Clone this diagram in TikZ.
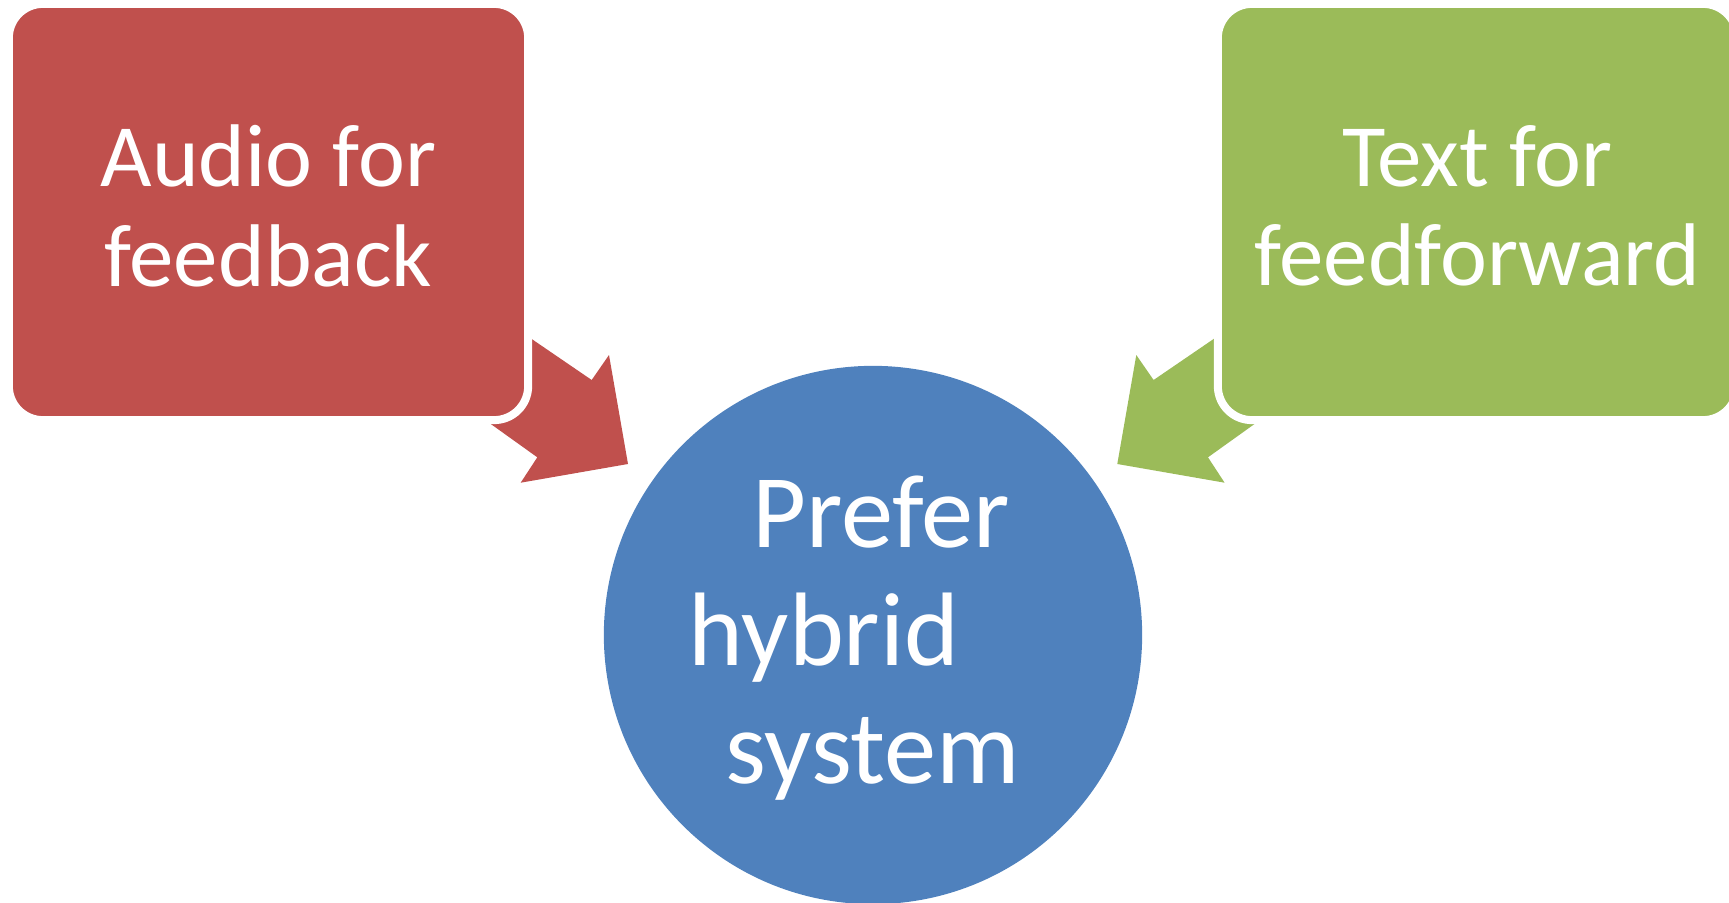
\documentclass[tikz,border=0pt]{standalone}
\usepackage{fontspec}
\setmainfont{Carlito}
\definecolor{boxred}{HTML}{C0504D}
\definecolor{boxgreen}{HTML}{9BBB59}
\definecolor{boxblue}{HTML}{4F81BD}
\begin{document}
\begin{tikzpicture}[x=0.01cm,y=-0.01cm,
  box/.style={rounded corners=0.34cm, draw=white, line width=0.08cm, minimum width=5.19cm, minimum height=4.16cm, inner sep=0pt},
  boxtext/.style={text=white, align=center, font=\fontsize{25.3}{28.2}\selectfont}]
\useasboundingbox (0,0) rectangle (1729,903);
\clip (0,0) rectangle (1729,903);
% block arrows, drawn first so the boxes cover their tails
\fill[boxred] (523.5,333.4)--(591.7,380)--(609,355)--(628,464)--(520.7,482.7)--(537.3,457.3)--(481,417)--cycle;
\fill[boxgreen] (1221.8,333.4)--(1153.6,380)--(1136.3,355)--(1117.3,464)--(1224.6,482.7)--(1208,457.3)--(1264.3,417)--cycle;
\node[box, fill=boxred] (audio) at (268.5,212) {};
\node[boxtext] (audiotext) at ([yshift=0.06cm]audio.center) {Audio for\\feedback};
\node[box, fill=boxgreen] (textff) at (1477.5,212) {};
\node[boxtext] (textfftext) at ([yshift=0.06cm]textff.center) {Text for\\feedforward};
\node[circle, fill=boxblue, minimum size=5.38cm, inner sep=0pt] (hybrid) at (873,635) {};
\node[text=white, align=center, font=\fontsize{29.7}{33.5}\selectfont] (hybridtext) at (873,638) {\hspace*{0.16cm}Prefer\\hybrid\hspace*{0.98cm}\mbox{}\\system};
\end{tikzpicture}
\end{document}
